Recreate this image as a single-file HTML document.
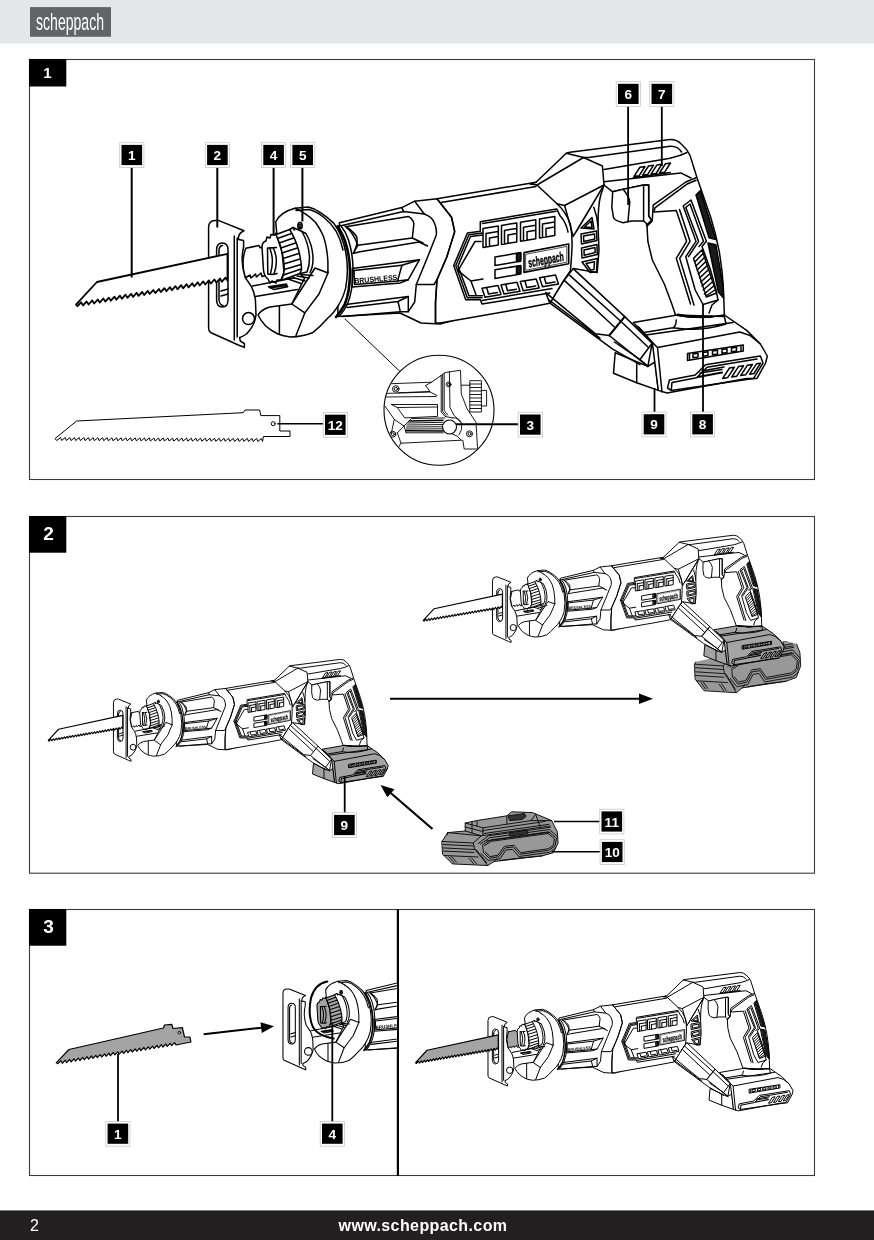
<!DOCTYPE html>
<html><head><meta charset="utf-8"><title>scheppach</title>
<style>
html,body{margin:0;padding:0;background:#fff}
body{width:874px;height:1240px;position:relative;overflow:hidden;font-family:"Liberation Sans",sans-serif}
</style></head><body>

<svg width="874" height="1240" viewBox="0 0 874 1240" style="position:absolute;left:0;top:0;will-change:opacity" font-family="Liberation Sans, sans-serif">
<style>.d path,.d circle,.d ellipse{fill:none;stroke:#000;stroke-linejoin:round;stroke-linecap:round}.d .w{fill:#fff}.d .bat path{vector-effect:non-scaling-stroke;stroke:#111}.d .k{fill:#1a1a1a}.d .k2{fill:#333;stroke:none}.d text.t{fill:#000;stroke:none}.d .bf{fill:var(--bf,#fff)}.d .bg{fill:var(--bg,#8e8e8e)}.d .cf{fill:var(--cf,#fff)}.d .kf{fill:var(--kf,#fff)}.d .sh{display:var(--shd,inline)}.d #blade path{fill:inherit}</style>
<defs><g class="d">
<g id="blade"><path d="M77.5,306.2 L81.1,302.3 L83.1,305.4 L86.6,301.4 L88.6,304.5 L92.2,300.4 L94.2,303.5 L97.8,299.5 L99.7,302.6 L103.3,298.5 L105.3,301.6 L108.9,297.6 L110.8,300.7 L114.4,296.6 L116.4,299.7 L120.0,295.7 L121.9,298.8 L125.5,294.7 L127.5,297.8 L131.1,293.8 L133.1,296.9 L136.6,292.8 L138.6,295.9 L142.2,291.9 L144.2,295.0 L147.8,290.9 L149.7,294.0 L153.3,290.0 L155.3,293.1 L158.9,289.0 L160.8,292.1 L164.4,288.1 L166.4,291.2 L170.0,287.1 L171.9,290.2 L175.5,286.2 L177.5,289.3 L181.1,285.2 L183.1,288.3 L186.6,284.2 L188.6,287.4 L192.2,283.3 L194.2,286.4 L197.8,282.3 L199.7,285.5 L203.3,281.4 L205.3,284.5 L208.9,280.4 L210.8,283.6 L214.4,279.5 L216.4,282.6 L220.0,278.5 L221.9,281.7 L225.5,277.6 L227.5,280.7 L227.5,253.8 L96.9,282 L76,304.6 Z"/></g>
<g id="front"><!-- SHOE -->
<g id="shoe">
<path class="w" d="M208.6,227 Q208.8,220.6 215,220.4 L218.3,220.4 L244,230.8 Q237.5,233.5 238.6,239.5 L243.6,240.5 L243.6,247 Q240,262 245.2,277.5 L251.5,286.7 L253.8,292.4 L255.4,299.8 L256,315 Q255,325 246.5,334 Q242,337 239.6,337.5 L240.3,341 L244.4,343.7 L244.4,347.4 L239.5,345.5 L210.5,332.5 Q208.6,331 208.6,328 Z"/>
<path d="M234.3,236 L234.3,340 M237.2,238 L237.2,337"/>
<path d="M216.6,250 Q216.6,243 222.3,243 Q228,243 228,250 L228,300 Q228,307 222.3,307 Q216.6,307 216.6,300 Z"/>
<path d="M219,251 Q219,246 222.5,245.5 M219,251 L219,300 Q219.5,305 223,305.5"/>
<path d="M221,291 L228,289 M221,296 L228,294"/>
<circle class="w" cx="248.5" cy="318.6" r="6"/>
</g>
</g>
<g id="chuckring"><!-- HOUSING RING + CHUCK -->
<g id="ring">
<!-- outer ring body -->
<path class="w" d="M275.7,222 Q280,212 295,208.2 L308.3,207 Q315,208.5 320.2,212.4 Q328,217.5 333.9,223.4 Q338.5,229 341.3,237.1 Q344.5,245 345.7,252 Q349,270 345.7,287.9 Q343,298 338.9,304.4 Q334,313 327.9,318 Q320,327 312.4,332.8 Q302,337 290.4,336.9 Q283,336 278,334 Q270,330 265.7,326 Q261,321 258,315 Q262,309 270,307 L291.8,304 L304.5,278.3 L299,273 L283,270 L277,236 Z"/>
<path d="M296,210.5 L309,209.5 Q317,211.5 324,217.5 Q331,223 336,231 Q341,240 343,250"/>
<!-- face inner edge (depth) -->
<path d="M305.6,214.2 Q311,217.5 315.6,222.5 Q320,228.5 323,235.3 Q327,246 327.9,261.8 L327.9,271.4"/>
<path d="M295,208.2 Q301,210.5 305.6,214.2"/>
<!-- lower jaw hex -->
<path d="M291.8,304 L315,268 L328,273 L319,294 L304.8,312.9 Z"/>
<path d="M304.8,312.9 L296,335.5 M279.4,306 L279.4,333.5"/>
<path d="M327.9,271.4 L328,273"/>
<!-- rear rings behind housing -->
<path stroke-width="2.6" d="M337.6,226.3 Q343,235 345,241 Q350,256 350,272 Q350,292 344.5,305 Q340.5,312 336,317"/>
<path d="M340.5,225.3 Q346,232 348.5,240 Q353.5,256 353,273 Q352.5,292 347.5,304 Q344,311 339.5,316"/>
<path d="M345,226 Q353,231 356.5,236.5 Q358.5,242 354.5,251"/>
<!-- small screw circle (5) -->
<ellipse cx="300" cy="225.7" rx="2.2" ry="3.2"/><ellipse cx="300" cy="225.7" rx="1" ry="1.8"/>
</g>
<g id="chuck">
<!-- shaft -->
<path class="cf sh" d="M245.8,248.3 L259,245.5 L260,247.8 L267.5,246.6 L268,275 L262,276.5 L261,273 L256.5,277 L255.5,274 L251,278 L250,275 L245.2,278 Q240.5,262 245.8,248.3 Z"/>
<!-- collar -->
<path class="kf" d="M262,247 Q262,242 266,241 L267,237 L270,238 L271,234.5 L275,235 L276,233 L282,252 L284,272 L281,280 L277,280 L276,283 L272,281 L270,283 L268,279 Q264,276 263.5,270 Z"/>
<path d="M267.5,248 Q272,248 276.5,247.5 M267.5,248 L267.8,274 Q272,275 277,273.5"/>
<path d="M270,249 Q274.5,260 270.5,273.5 M273.5,248.5 Q279,260 274,274"/>
<!-- knurled ring -->
<path class="kf" d="M276,234.5 L289.7,229.5 Q296,240 298.9,251.3 Q301.5,262 301.6,269.6 L299.8,273.5 L281,280.5 Q284.5,275 284.2,268 Q283.5,250 276,234.5 Z"/>
<path d="M277.5,238.5 L291.5,233.5 M279.3,243 L293.5,238 M280.8,248 L295.5,243 M282,253 L297.2,248 M283,258.5 L298.7,253.5 M283.8,264 L300,259 M284.2,269.5 L301,264.5 M283.5,275 L301,269"/>
<!-- hub behind ring -->
<path d="M289.7,229.5 L293,227.5 L302,231.5 Q309,244 309.5,258 Q309.5,266 307,272 L299.8,273.5"/>
<path d="M302,231.5 L306,233.5 Q313,246 313,259 Q313,267 310,272.5"/>
<path d="M293,227.5 L294.5,230"/>
</g>
<g id="platform">
<path d="M252.7,286 L294.5,277.8 M255.4,296.4 L297.3,289.5 M268.5,286.8 L286.3,284 L287.7,286.8 L274,289.5 Z M270,288 L286,285.5"/>
<path d="M288,279 L301,283.5 M293,277.5 L305,281 M297,276 L309,278 M301,274.5 L313,275.5"/>
</g>
</g>
<g id="sbody"><!-- NECK -->
<g id="neck">
<path class="w" d="M339.4,222.8 L401.9,207.6 L414.7,201.2 L437,198.8 L462,205 L462,318 L440,324 L421,323 L400,313 L337.8,316.5 Z"/>
<path d="M342,225.5 L403.5,211.6 L424.3,214 Q432,217 434,222 Q437,228 436.3,234.9 L427.5,257.3 L416.3,284.5 L414.7,302 L408.3,311.7"/>
<path d="M401.9,207.6 L403.5,211.6 M414.7,201.2 L424.3,214"/>
<!-- top recess -->
<path d="M345.8,226.8 L408.3,216.4 Q413,219 413.9,223.6 L412.3,238 L357.8,245.3 L357,242.9 Q353,233 345.8,226.8 Z"/>
<path d="M357.8,245.3 L353,253.5 L360,251.7 L419,242 L427.5,246 M412.3,238 L423,243"/>
<!-- BRUSHLESS panel -->
<path d="M352.2,268.5 L419.5,259.7 L408.3,279.7 L400.3,282.9 L352.2,286.9 Z"/>
<path d="M354,270.6 L402,265.3 L397.5,281 L354.5,284.6 Z"/>
<path d="M402,265.3 L419.5,259.7 M397.5,281 L408.3,279.7"/>
<text class="t" x="354.6" y="283.6" font-size="7.6" font-weight="700" textLength="43" lengthAdjust="spacingAndGlyphs" transform="rotate(-5 354.6 283.6)">BRUSHLESS</text>
<!-- lower recess -->
<path d="M345.8,304.5 L408.3,296.5 L408.3,311.7 L400.3,311.7 L342.6,316.5"/>
<path d="M347,307.5 L398,301.5 L408.3,296.5 M398,301.5 L400.3,311.7"/>
<!-- Y rib -->
<path d="M416.3,284.5 L434,284.5 L437,279.7"/>
</g>
<!-- MAIN BODY -->
<g id="body">
<path class="w" d="M437,198.8 L465,194 L536,182.3 L566.3,153.2 L569.8,152.3 L670,139.6 Q677,139.5 681.5,144.3 Q687,149 690,155.4 L697,177.8 L710.7,217.2 Q716,234 719.2,251.5 Q722.5,270 723.5,290 L724.4,316.6 L675.5,315 L672,304.6 L664.3,284 L652.3,260 L647.9,241.5 L647,226 L652,221 L648.7,215.8 L648.7,185 L643.6,185 L612.7,191.8 L604,185 L600.7,195.2 Q598,205 598,226 L599,250 L597.2,272.4 L573.2,268.6 L563.6,281 L549.8,303.3 L520,309 L440,323 L435.5,323 L435.5,302 L437,279.7 L446.7,257.3 L454.7,231.6 L451.5,217.2 Z"/>
<!-- collar right edge -->
<path d="M437,198.8 L451.5,217.2 L454.7,231.6 L446.7,257.3 L437,279.7 L435.5,302 L435.5,323"/>
<path d="M441,202.5 L536,186.5 M536,182.3 L530.3,184"/>
<!-- ramp -->
<path d="M537,185 L583.5,157.5 L588.6,157.5 L670,146.3 Q678,146 681.5,152"/>
<path d="M583.5,157.5 L602.4,166 L604,185 L564.6,205.5 L557,203.8 L537,185"/>
<path d="M566.3,153.2 L583.5,157.5 M530.3,184 L537,185 M557,203.8 Q566,212 570.4,224.3 Q572.5,236 572,246.6 Q571.5,260 570.4,270.7 L563.6,281"/>
<path d="M604,169.5 L670,158.3 Q680,156 687,152.5 M604,181.7 L680.8,172.9 L691,178"/>
<path d="M564.6,205.5 L573.2,236.4 M604,185 L573.2,236.4 M601,190 L576,232"/>
<!-- top slots (7) -->
<path d="M634,176.5 L640,167.2 L645,166.5 L639,175.8 Z M642.5,175.3 L648.5,166 L653.5,165.3 L647.5,174.6 Z M651,174.2 L657,164.9 L662,164.2 L656,173.5 Z M659.5,173 L665.5,163.7 L670.5,163 L664.5,172.3 Z M633.4,177.8 L670.3,172.6"/>
<!-- trigger -->
<path class="w" d="M612.7,191.8 L623,189.2 L643.6,185 L643.6,221 L631.5,221 L623,222.7 Q615,221 613.5,217.5 L611.8,207.2 Z"/>
<path d="M623,189.2 Q629,196 629.8,202 L628,221"/>
<path d="M643.6,185 L648.7,185 L648.7,215.8 L652,221 L647,226 M643.6,221 L647,224"/>
<!-- grip boundary lines -->
<path d="M696,177.8 L685.8,182 L653.2,205.2 L652.3,219.8 L646.3,225"/>
<path d="M696,180.3 L686.6,184.3 L654.9,207.8 L654,212 L676.3,210.4 L686.6,241.3 L676.3,258.4 L690.5,304"/>
<path d="M679.5,209.5 L690,241.3 L679.7,258.4 L694,305"/>
<!-- chevron frame -->
<path d="M683.2,206 L691,200 L706.4,241.3 L702,246.4 L710.7,270.4 L716,290 L718,300 L703,304.5 L695.2,290 L685.8,256.7 L696,241.3 Z"/>
<path d="M685.8,207.5 L690,204 L703.5,241.3 L699,246.4 M688.5,256.7 L698.6,241.3 L685.8,207.5"/>
<!-- hatch -->
<path d="M693.5,258.4 L702,249.8 L716.5,293 L706.5,297 Z"/>
<path d="M694.8,262 L703,253.5 M696,266 L704.4,257.5 M697.2,270 L705.8,261.5 M698.4,274 L707.2,265.5 M699.6,278 L708.6,269.5 M700.8,282 L710,273.5 M702,286 L711.4,277.5 M703.2,290 L712.8,281.5 M704.4,294 L714.2,285.5 M706,296 L715.6,289.5"/>
<!-- mesh -->
<path class="k" d="M696,195 L700.4,190.6 L715.8,239.5 L709,237.8 Z"/>
<path class="k" d="M708,243 L715.8,244.7 L723,285 L723.5,298 L718.4,292 Z"/>
<!-- lower handle -->
<path d="M718,300 L712,305 L709,313 M675.5,315 Q698.6,319.5 724.4,315" />
<path stroke-width="2" d="M678,314.6 Q698,318.6 712,316.5"/>
<!-- back top surface lines -->
<!-- side vents -->
<path d="M581,228 L592,217.5 L594,229 Z M584.5,227 L591,221 L592,227.5 Z"/>
<path d="M581,234 L596.5,231 L597,240.5 L581.5,244 Z M583.5,236 L594.5,234 L594.8,239 L583.8,241.5 Z"/>
<path d="M581.5,248 L597,244.5 L597.3,254.5 L582,258 Z M584,250 L595,247.5 L595.2,252.5 L584.2,255.2 Z"/>
<path d="M582,262 L597.3,258.5 L596.5,272 L590,272.5 Z M586,263.5 L594.5,261.8 L594,269.5 L590.5,270 Z"/>
<path d="M593.8,207.2 Q597.5,217 598,226"/>
<!-- vent panel -->
<path d="M453.7,265.5 L467.5,232.9 L480.3,231.2 L480.3,221.7 L556.7,208.9 L560,215.7 Q566,222 568,232 M453.7,265.5 L465.7,299.8 L480.3,299.8 L482,304 L549.8,293"/>
<path d="M455.8,265.5 L469,234.8 L482,233 M455.8,265.5 L467.3,297.8 L482,297.8"/>
<path d="M458,266 L470.5,236.5 L482.5,235 M458,266 L469,295.8 L482.5,295.8"/>
<path d="M458,270.7 L475,241.5 L481,241.5 M458,270.7 L470.9,281 L476,294.7 M470.9,281 L483,279"/>
<path d="M482.5,223.5 L556,211.3"/>
<!-- top vents -->
<g id="tv"><path d="M483,228.5 L498.3,226 L498.3,245 L483,247.5 Z M486,233.5 L498,231.5 M486,233.5 L486,247 M489.5,238 L498,236.5 M489.5,238 L489.5,246.3"/></g>
<use href="#tv" x="18.5" y="-3.1"/><use href="#tv" x="37.5" y="-6.3"/><use href="#tv" x="56.5" y="-9.5"/>
<!-- bottom vents -->
<g id="bv"><path d="M482,288.2 L498,285.5 L501,294.5 L485,297.3 Z M487,288.5 L488.5,294 L497.5,292.5"/></g>
<use href="#bv" x="19" y="-3.3"/><use href="#bv" x="38.2" y="-6.6"/><use href="#bv" x="57.5" y="-10.5"/>
<path d="M482,300.5 L552,288.5"/>
<!-- small slots -->
<path d="M495,257 L520.7,252.6 L520.7,261.2 L495,265.5 Z M495,269.8 L520.7,265.5 L520.7,274 L495,278.4 Z"/>
<path class="k" d="M516.5,253.8 L520.7,253 L520.7,260 L516.5,260.8 Z M516.5,266.8 L520.7,266 L520.7,273 L516.5,273.8 Z"/>
<!-- logo plate -->
<path stroke-width="1.6" d="M524,252.6 L568.7,244 L568.7,263.8 L524,272.4 Z"/>
<path stroke-width="0.7" d="M526,254.3 L566.8,246.4 L566.8,262.2 L526,270.2 Z"/>
<text class="t" x="529" y="267.5" font-size="13" font-weight="700" font-style="italic" style="stroke:#000;stroke-width:0.45px" textLength="36" lengthAdjust="spacingAndGlyphs" transform="rotate(-10.8 529 267.5)">scheppach</text>
</g>
<!-- STRUT -->
<g id="strut">
<path class="w" d="M573.2,268.6 L624.7,316.6 L652.1,343.2 L647.9,366.4 L609.2,335.5 L595.5,333.8 L545.7,292.6 L549.8,303.3 L563.6,281 Z"/>
<path d="M569.8,275.4 L621.3,321.8 L648,347 M564.6,280.6 L614.4,327"/>
<path stroke-width="2" d="M624.7,316.6 L609.2,335.5"/>
<path d="M551,303.8 L612.7,349.2 L640,364.7 M549,300 L600,338"/>
<path d="M652.1,343.2 L640,359.5 L647.9,366.4 M640,359.5 L614.4,342"/>
</g>
</g>
<g id="foot"><!-- BASE (battery foot) -->
<path class="bf" d="M615.2,352.7 L613.5,373.3 L636.7,382.7 L658.3,390.4 L655,362 L647.9,366.4 Z"/>
<path d="M636.7,363 L636.7,382.7"/>
<path class="bf" d="M633.4,322.6 L673,315.8 L675.5,315 Q698.6,319.5 724.4,315 L746.7,330.4 L760.4,344 L767.3,356 L765.6,363 L757,378.4 L746.7,378.4 L667,393 L658.3,390.4 L652.3,342.4 Z"/>
<path d="M652.3,342.4 L657.5,347.5 L739.8,332 L750,335.5 L760.4,344 M657.5,347.5 L662,392"/>
<path d="M638,326.5 L644,332.5 L672.8,327.8 Q676,326.5 676.3,320 M644,332.5 L652.3,342.4 M672.8,327.8 Q700,332 726,324 L724.4,316.6 M646,335 L733,322.5"/>
<!-- contacts -->
<path d="M687.5,353.5 L743.3,345 L743.3,351 L687.5,360.4 Z M689.5,354.5 L689.5,359.5 M741,346 L741,351"/>
<path d="M693,354 L698,353.2 L698,357 L693,357.8 Z M703,352.5 L708,351.7 L708,355.5 L703,356.3 Z M712.5,351 L717.5,350.2 L717.5,354 L712.5,354.8 Z M722,349.5 L727,348.7 L727,352.5 L722,353.3 Z M731.5,348 L736.5,347.2 L736.5,351 L731.5,351.8 Z"/>
<!-- lower slot -->
<path d="M669.5,380 L695.2,375 L705.5,364.7 L760.4,356 L763,363 L753.6,378.4 L671.2,390.4 L667.5,388 Z"/>
<path d="M672,382.5 L696.5,377.8 L707,367.3 L757,359 M672,382.5 L671.2,390.4"/>
<path stroke-width="2.2" d="M698,377 L722,372.5"/>
<path d="M700,373 L722,369.5 M702,371 L724,367"/>
<path d="M722.7,378.4 L729.5,368 L734.5,367.2 L727.7,377.6 Z M731.7,377 L738.5,366.6 L743.5,365.8 L736.7,376.2 Z M740.7,375.6 L747.5,365.2 L752.5,364.4 L745.7,374.8 Z M749.7,374.2 L756.5,363.8 L760.5,363.2 L754,373.5 Z"/>
</g>
</g></defs>
<rect x="0" y="0" width="874" height="43.5" fill="#e6e7e8"/><rect x="30" y="7.1" width="81" height="29.7" fill="#636466"/><rect x="0" y="1210.4" width="874" height="29.6" fill="#231f20"/>
<text x="36" y="29.6" font-size="24.5" fill="#fff" textLength="68" lengthAdjust="spacingAndGlyphs">scheppach</text>
<rect x="29.5" y="59.5" width="785" height="420" stroke="#3a3a3a" stroke-width="1.1" fill="none"/>
<rect x="29.5" y="516.5" width="785" height="356.7" stroke="#3a3a3a" stroke-width="1.1" fill="none"/>
<rect x="29.5" y="909.5" width="785" height="266" stroke="#3a3a3a" stroke-width="1.1" fill="none"/>
<rect x="396.8" y="909" width="2.2" height="267" fill="#000"/>
<rect x="29" y="59" width="37.3" height="27.5" fill="#000"/>
<rect x="29" y="516" width="37.3" height="36.7" fill="#000"/>
<rect x="29" y="909" width="37.3" height="36.7" fill="#000"/>
<text x="47.5" y="78" text-anchor="middle" font-size="15" font-weight="700" fill="#fff">1</text>
<text x="48.6" y="540.2" text-anchor="middle" font-size="19" font-weight="700" fill="#fff">2</text>
<text x="48.6" y="933.2" text-anchor="middle" font-size="19" font-weight="700" fill="#fff">3</text>
<g class="d">
<path d="M345,318.9 L399.7,371.2" stroke-width="1"/>
<g transform="translate(0,0) scale(1,1)" stroke-width="1.50"><g style="--bf:#fff"><use href="#foot"/></g><use href="#sbody"/><g style="--cf:#fff;--kf:#fff"><use href="#chuckring"/></g><use href="#front"/><g fill="#fff" stroke-width="1.80"><use href="#blade"/></g></g>
<path class="w" stroke-width="1" d="M57,440.3 L60.5,437.5 L61.7,440.5 L65.2,437.5 L66.3,440.5 L69.9,437.6 L71.0,440.6 L74.5,437.6 L75.7,440.6 L79.2,437.6 L80.4,440.6 L83.9,437.6 L85.0,440.6 L88.5,437.7 L89.7,440.7 L93.2,437.7 L94.4,440.7 L97.9,437.7 L99.0,440.7 L102.6,437.7 L103.7,440.7 L107.2,437.7 L108.4,440.8 L111.9,437.8 L113.0,440.8 L116.6,437.8 L117.7,440.8 L121.2,437.8 L122.4,440.8 L125.9,437.8 L127.1,440.8 L130.6,437.9 L131.7,440.9 L135.2,437.9 L136.4,440.9 L139.9,437.9 L141.1,440.9 L144.6,437.9 L145.7,440.9 L149.3,437.9 L150.4,441.0 L153.9,438.0 L155.1,441.0 L158.6,438.0 L159.8,441.0 L163.3,438.0 L164.4,441.0 L167.9,438.0 L169.1,441.0 L172.6,438.1 L173.8,441.1 L177.3,438.1 L178.4,441.1 L181.9,438.1 L183.1,441.1 L186.6,438.1 L187.8,441.1 L191.3,438.2 L192.4,441.2 L196.0,438.2 L197.1,441.2 L200.6,438.2 L201.8,441.2 L205.3,438.2 L206.5,441.2 L210.0,438.2 L211.1,441.2 L214.6,438.3 L215.8,441.3 L219.3,438.3 L220.5,441.3 L224.0,438.3 L225.1,441.3 L228.7,438.3 L229.8,441.3 L233.3,438.4 L234.5,441.4 L238.0,438.4 L239.1,441.4 L242.7,438.4 L243.8,441.4 L247.3,438.4 L248.5,441.4 L252.0,438.4 L253.2,441.5 L256.7,438.5 L257.8,441.5 L261.3,438.5 L262.5,441.5 L263.4,436.5 L290,436.5 L290,431 L279.8,431 L279.8,415.6 L260.8,415.6 L259.7,410 L245,410 L243.2,412.7 L76.6,421 L55.4,438.3 Z"/><circle cx="273.2" cy="423.7" r="2" stroke-width="1"/>
<clipPath id="cc"><circle cx="439" cy="410.2" r="54.5"/></clipPath>
<circle class="w" cx="439" cy="410.2" r="55" stroke-width="1.1"/>
<g clip-path="url(#cc)" stroke-width="0.9">
<path d="M383,384 L431.5,382.2 L439,377 L445,372.5 L460.5,370.3 L461.3,394 L467.2,409 L476,422.3 L477.6,449 L464.2,449 L462.8,440.2"/>
<path d="M441.2,375.5 L441.2,412 L445,416.4 L452.3,417.9 M444.2,373.5 L444.2,410.4 L447.9,415 M449.4,372 L450,407.5 L453.8,415 L460.5,422.3 M442.7,375 L442.7,411.5 L446,415.5"/>
<circle cx="395.8" cy="388.9" r="3.3"/><circle cx="395.8" cy="388.9" r="1.7"/>
<circle cx="448.6" cy="384.4" r="2.4"/><circle cx="448.6" cy="384.4" r="1.1"/>
<circle cx="469.5" cy="433.8" r="3"/><circle cx="469.5" cy="433.8" r="1.5"/>
<circle cx="392.8" cy="434.2" r="3"/><circle cx="392.8" cy="434.2" r="1.5"/>
<path d="M384,393.5 L430,392 L437,395.5 M398,392.8 L430,391.5 L425.6,385.5 M425.6,385.5 L431.5,382.2 M384,397 L436,396.5"/>
<path d="M391.4,404.5 L437.5,404.5 L437.5,416.4 L404.7,417.9 L397.3,407.5 L437,407 M397.3,407.5 L391.4,404.5"/>
<path d="M383.9,404.5 L394.3,419.4 L391.4,432.8 M394.3,419.4 L404,426 M397.3,432.8 L401,443.2 L461.3,440.2 M397.3,432.8 L404,426"/>
<path d="M404,426 L411.4,418.6 L445,417.9 M406.2,432.8 L443.4,432.8 M404,426 L406.2,432.8"/>
<path stroke-width="1.6" d="M409.5,421 L443,420.2 M406,430.8 L443,431"/>
<path d="M408,423 L443,422.3 M407,425 L443,424.5 M406.5,427 L443,426.7 M406.3,429 L443,428.8"/>
<path d="M401,443.2 L398,448 M461.3,440.2 L457,436 L452,434"/>
<path d="M461.3,385.2 L470.2,385.2 M470.2,380.7 L481.4,380.7 L481.4,412 L470.2,412 Z M481.4,390.4 L486.6,390.4 L486.6,406 L481.4,406"/>
<path d="M470.2,384 L481.4,384 M470.2,387.5 L481.4,387.5 M470.2,391 L481.4,391 M470.2,394.5 L481.4,394.5 M470.2,398 L481.4,398 M470.2,401.5 L481.4,401.5 M470.2,405 L481.4,405 M470.2,408.5 L481.4,408.5"/>
<path d="M452.3,417.9 Q459,417 461.5,423 Q463,430 459,435"/>
<circle class="w" cx="449.5" cy="427" r="7" stroke-width="1.1"/>
</g>

</g>
<path d="M131.7,165 L131.7,277.5" stroke="#000" stroke-width="2" fill="none"/>
<path d="M217.3,165 L217.3,227.5" stroke="#000" stroke-width="2" fill="none"/>
<path d="M273.6,165 L273.6,235.5" stroke="#000" stroke-width="2" fill="none"/>
<path d="M302.4,165 L302.4,221.5" stroke="#000" stroke-width="2" fill="none"/>
<path d="M628.1,103 L628.1,205" stroke="#000" stroke-width="1.8" fill="none"/>
<path d="M661.8,103 L661.8,166" stroke="#000" stroke-width="1.8" fill="none"/>
<path d="M703,303.8 L703,414" stroke="#000" stroke-width="1.8" fill="none"/>
<path d="M654.5,388 L654.5,414" stroke="#000" stroke-width="1.8" fill="none"/>
<path d="M456,424.3 L520,424.3" stroke="#000" stroke-width="2" fill="none"/>
<path d="M277.3,423.7 L325,423.7" stroke="#000" stroke-width="1.5" fill="none"/>
<rect x="119.7" y="142.7" width="24.2" height="24.8" fill="#fff" stroke="#c8c8c8" stroke-width="0.8"/><rect x="121.5" y="144.9" width="20.6" height="20.2" fill="#000"/><text x="131.8" y="160.0" text-anchor="middle" font-size="13.6" font-weight="700" fill="#fff" stroke="none">1</text>
<rect x="205.3" y="142.7" width="24.2" height="24.8" fill="#fff" stroke="#c8c8c8" stroke-width="0.8"/><rect x="207.1" y="144.9" width="20.6" height="20.2" fill="#000"/><text x="217.4" y="160.0" text-anchor="middle" font-size="13.6" font-weight="700" fill="#fff" stroke="none">2</text>
<rect x="261.5" y="142.7" width="24.2" height="24.8" fill="#fff" stroke="#c8c8c8" stroke-width="0.8"/><rect x="263.3" y="144.9" width="20.6" height="20.2" fill="#000"/><text x="273.6" y="160.0" text-anchor="middle" font-size="13.6" font-weight="700" fill="#fff" stroke="none">4</text>
<rect x="290.6" y="142.7" width="24.2" height="24.8" fill="#fff" stroke="#c8c8c8" stroke-width="0.8"/><rect x="292.4" y="144.9" width="20.6" height="20.2" fill="#000"/><text x="302.7" y="160.0" text-anchor="middle" font-size="13.6" font-weight="700" fill="#fff" stroke="none">5</text>
<rect x="616.2" y="81.6" width="24.2" height="24.8" fill="#fff" stroke="#c8c8c8" stroke-width="0.8"/><rect x="618.0" y="83.8" width="20.6" height="20.2" fill="#000"/><text x="628.3" y="98.9" text-anchor="middle" font-size="13.6" font-weight="700" fill="#fff" stroke="none">6</text>
<rect x="649.7" y="81.6" width="24.2" height="24.8" fill="#fff" stroke="#c8c8c8" stroke-width="0.8"/><rect x="651.5" y="83.8" width="20.6" height="20.2" fill="#000"/><text x="661.8" y="98.9" text-anchor="middle" font-size="13.6" font-weight="700" fill="#fff" stroke="none">7</text>
<rect x="641.9" y="412.0" width="24.2" height="24.8" fill="#fff" stroke="#c8c8c8" stroke-width="0.8"/><rect x="643.7" y="414.2" width="20.6" height="20.2" fill="#000"/><text x="654.0" y="429.3" text-anchor="middle" font-size="13.6" font-weight="700" fill="#fff" stroke="none">9</text>
<rect x="690.5" y="412.0" width="24.2" height="24.8" fill="#fff" stroke="#c8c8c8" stroke-width="0.8"/><rect x="692.3" y="414.2" width="20.6" height="20.2" fill="#000"/><text x="702.6" y="429.3" text-anchor="middle" font-size="13.6" font-weight="700" fill="#fff" stroke="none">8</text>
<rect x="518.2" y="412.3" width="24.2" height="24.8" fill="#fff" stroke="#c8c8c8" stroke-width="0.8"/><rect x="520.0" y="414.5" width="20.6" height="20.2" fill="#000"/><text x="530.3" y="429.6" text-anchor="middle" font-size="13.6" font-weight="700" fill="#fff" stroke="none">3</text>
<rect x="323.2" y="412.5" width="24.2" height="24.8" fill="#fff" stroke="#c8c8c8" stroke-width="0.8"/><rect x="325.0" y="414.7" width="20.6" height="20.2" fill="#000"/><text x="335.3" y="429.8" text-anchor="middle" font-size="13.6" font-weight="700" fill="#fff" stroke="none">12</text>
<g class="d">
<g transform="translate(10.9,590.9) scale(0.4917,0.4906)" stroke-width="1.93"><g style="--bf:#a4a4a4"><use href="#foot"/></g><use href="#sbody"/><g style="--cf:#fff;--kf:#fff"><use href="#chuckring"/></g><use href="#front"/><g fill="#fff" stroke-width="2.32"><use href="#blade"/></g></g>
<clipPath id="cb"><path d="M688,663.5 L740,652 L786,641 L812,648 L812,702 L688,702 Z"/></clipPath>
<g clip-path="url(#cb)"><g transform="translate(383.6,463.2) scale(0.522,0.516)"><g transform="translate(595.8,389.5) scale(1.75,2.3) translate(-442,-841.5)" class="bat" stroke-width="0.95" style="--bg:#989898"><path class="bg" d="M442,841.5 L447.6,832.6 L465.2,831 L465.2,823 L476.5,820.6 L506.9,815.8 L511.7,811.8 L532.5,812.6 L551.7,820.6 L557.3,831.8 L558.1,843 L553.3,852.7 L542.1,855.9 L494.1,861.5 L487.7,865.5 L452.4,863.9 L442.8,854.3 Z"/>
<path d="M442,841.5 L473.2,843 L481.3,835.8 L447.6,832.6 M473.2,843 L474.8,849.5 L442.8,847.9 M474.8,849.5 L482.9,859 L487.7,865.5 M442.5,851 L474,852.5 M444,855.5 L478,857"/>
<path d="M482.9,844.7 L490.9,839.9 L548.5,831.8 L556.5,838.2 L554.9,846.3 L548.5,850.3 L519.7,854.3 L513.3,847 L505.3,847.9 L498.9,856.7 L489.3,858.3 L483.7,852.7 Z"/>
<path d="M480.5,844 L489.8,837.7 L549.5,829.5 L558,837 M481,853.5 L488.3,860.5 L500,858.8 L506,850 L512.5,849.3 L518.8,856.5 L549.5,852.3 L556,848"/>
<path d="M478.3,843.5 L488.5,835.7 L550.5,827.3 M476,849.5 L486.5,862.5"/>
<path d="M465.2,823 L482.9,827.8 L531,820.6 L535.7,814.2 M482.9,827.8 L482.9,835 M465.2,831 L481.3,835.8 L550,826 M472,821.6 L472,832.8 M477,820.6 L477,826.2 M483,830.5 L545,821.5 M506.9,815.8 L506.9,824 M531,820.6 L551.7,820.6 M535.7,814.2 L540,826.5"/>
<path class="k2" d="M510,832.6 L527.7,830.2 L527.7,833.6 L510,836 Z M508.5,815.8 L524.5,813.6 L526,816.5 L522,819.5 L510,820.6 Z"/>
<path d="M449,857 L454,862.5 M451.5,856.5 L456.5,862 M469,858.5 L474,864 M471.5,858 L476.5,863.5 M494.1,861.5 L497,858.5 M520,858 L542.1,855.9 M500,860.5 L520,858"/>
<path d="M484.5,845.5 L491.5,841.3 L548,833.5 L554.5,838.8 L553.3,845.5 L548,848.8 L520.5,852.7 L514,845.3 L504.5,846.3 L498,855.2 L490,856.6 L485.3,852"/>
<path d="M443,844.5 L473.5,846 M447.6,832.6 L447.6,834.5 M465.2,827 L482.9,831.5 M484,833.5 L549,824.3 M486,841 L550,832.2"/>
</g></g></g>
<g transform="translate(383.6,463.2) scale(0.522,0.516)" stroke-width="1.83"><g style="--bf:#a4a4a4"><use href="#foot"/></g><use href="#sbody"/><g style="--cf:#fff;--kf:#fff"><use href="#chuckring"/></g><use href="#front"/><g fill="#fff" stroke-width="2.20"><use href="#blade"/></g></g>
<g class="bat" stroke-width="1.0" style="--bg:#989898"><path class="bg" d="M442,841.5 L447.6,832.6 L465.2,831 L465.2,823 L476.5,820.6 L506.9,815.8 L511.7,811.8 L532.5,812.6 L551.7,820.6 L557.3,831.8 L558.1,843 L553.3,852.7 L542.1,855.9 L494.1,861.5 L487.7,865.5 L452.4,863.9 L442.8,854.3 Z"/>
<path d="M442,841.5 L473.2,843 L481.3,835.8 L447.6,832.6 M473.2,843 L474.8,849.5 L442.8,847.9 M474.8,849.5 L482.9,859 L487.7,865.5 M442.5,851 L474,852.5 M444,855.5 L478,857"/>
<path d="M482.9,844.7 L490.9,839.9 L548.5,831.8 L556.5,838.2 L554.9,846.3 L548.5,850.3 L519.7,854.3 L513.3,847 L505.3,847.9 L498.9,856.7 L489.3,858.3 L483.7,852.7 Z"/>
<path d="M480.5,844 L489.8,837.7 L549.5,829.5 L558,837 M481,853.5 L488.3,860.5 L500,858.8 L506,850 L512.5,849.3 L518.8,856.5 L549.5,852.3 L556,848"/>
<path d="M478.3,843.5 L488.5,835.7 L550.5,827.3 M476,849.5 L486.5,862.5"/>
<path d="M465.2,823 L482.9,827.8 L531,820.6 L535.7,814.2 M482.9,827.8 L482.9,835 M465.2,831 L481.3,835.8 L550,826 M472,821.6 L472,832.8 M477,820.6 L477,826.2 M483,830.5 L545,821.5 M506.9,815.8 L506.9,824 M531,820.6 L551.7,820.6 M535.7,814.2 L540,826.5"/>
<path class="k2" d="M510,832.6 L527.7,830.2 L527.7,833.6 L510,836 Z M508.5,815.8 L524.5,813.6 L526,816.5 L522,819.5 L510,820.6 Z"/>
<path d="M449,857 L454,862.5 M451.5,856.5 L456.5,862 M469,858.5 L474,864 M471.5,858 L476.5,863.5 M494.1,861.5 L497,858.5 M520,858 L542.1,855.9 M500,860.5 L520,858"/>
<path d="M484.5,845.5 L491.5,841.3 L548,833.5 L554.5,838.8 L553.3,845.5 L548,848.8 L520.5,852.7 L514,845.3 L504.5,846.3 L498,855.2 L490,856.6 L485.3,852"/>
<path d="M443,844.5 L473.5,846 M447.6,832.6 L447.6,834.5 M465.2,827 L482.9,831.5 M484,833.5 L549,824.3 M486,841 L550,832.2"/>
</g>
</g>
<path d="M390,698.8 L642,698.8" stroke="#000" stroke-width="2" fill="none"/>
<path d="M653,698.8 L639,693.6 L639,704 Z" fill="#000"/>
<path d="M432.5,829 L389,791.5" stroke="#000" stroke-width="2.2" fill="none"/>
<path d="M380.5,785 L394.5,789.3 L387.3,797.3 Z" fill="#000"/>
<path d="M344.7,776.5 L344.7,816" stroke="#000" stroke-width="1.8" fill="none"/>
<path d="M554,821.5 L602,821.5" stroke="#000" stroke-width="1.6" fill="none"/>
<path d="M552.2,851.7 L602,851.7" stroke="#000" stroke-width="1.6" fill="none"/>
<rect x="332.3" y="812.7" width="24.2" height="24.8" fill="#fff" stroke="#c8c8c8" stroke-width="0.8"/><rect x="334.1" y="814.9" width="20.6" height="20.2" fill="#000"/><text x="344.4" y="830.0" text-anchor="middle" font-size="13.6" font-weight="700" fill="#fff" stroke="none">9</text>
<rect x="599.7" y="809.2" width="24.2" height="24.8" fill="#fff" stroke="#c8c8c8" stroke-width="0.8"/><rect x="601.5" y="811.4" width="20.6" height="20.2" fill="#000"/><text x="611.8" y="826.5" text-anchor="middle" font-size="13.6" font-weight="700" fill="#fff" stroke="none">11</text>
<rect x="600.1" y="839.7" width="24.2" height="24.8" fill="#fff" stroke="#c8c8c8" stroke-width="0.8"/><rect x="601.9" y="841.9" width="20.6" height="20.2" fill="#000"/><text x="612.2" y="857.0" text-anchor="middle" font-size="13.6" font-weight="700" fill="#fff" stroke="none">10</text>
<g class="d">
<clipPath id="c3"><rect x="30" y="910" width="367" height="265"/></clipPath>
<g clip-path="url(#c3)"><g transform="translate(150.3,848.8) scale(0.636,0.636)" stroke-width="1.65"><g style="--bf:#fff"><use href="#foot"/></g><use href="#sbody"/><g style="--cf:#fff;--kf:#a4a4a4;--shd:none"><use href="#chuckring"/></g><use href="#front"/></g><path stroke-width="2" d="M327.3,981.6 Q315,984 311,998 Q307.5,1015 313,1027.3 Q318,1036 333.7,1038.5"/></g>
<g transform="translate(374.1,896.3) scale(0.546,0.546)" stroke-width="1.83"><g style="--bf:#fff"><use href="#foot"/></g><use href="#sbody"/><g style="--cf:#a4a4a4;--kf:#fff"><use href="#chuckring"/></g><use href="#front"/><g fill="#a4a4a4" stroke-width="2.20"><use href="#blade"/></g></g>
<path stroke-width="1.2" style="fill:#a4a4a4" d="M58,1063.6 L60.9,1060.9 L62.4,1063.3 L65.2,1060.2 L66.7,1062.6 L69.6,1059.5 L71.1,1061.9 L74.0,1058.8 L75.5,1061.2 L78.3,1058.1 L79.9,1060.5 L82.7,1057.4 L84.2,1059.8 L87.1,1056.7 L88.6,1059.1 L91.5,1056.0 L93.0,1058.4 L95.8,1055.3 L97.3,1057.7 L100.2,1054.6 L101.7,1057.0 L104.6,1053.9 L106.1,1056.3 L108.9,1053.2 L110.4,1055.6 L113.3,1052.5 L114.8,1054.9 L117.7,1051.8 L119.2,1054.1 L122.0,1051.1 L123.6,1053.4 L126.4,1050.3 L127.9,1052.7 L130.8,1049.6 L132.3,1052.0 L135.2,1048.9 L136.7,1051.3 L139.5,1048.2 L141.0,1050.6 L143.9,1047.5 L145.4,1049.9 L148.3,1046.8 L149.8,1049.2 L152.6,1046.1 L154.1,1048.5 L157.0,1045.4 L158.5,1047.8 L161.4,1044.7 L162.9,1047.1 L165.8,1044.0 L167.3,1046.4 L170.1,1043.3 L171.6,1045.7 L174.5,1042.6 L176.0,1045.0 L190.9,1042 L190,1037 L184.5,1037 L182.4,1027.7 L173,1028.5 L171.8,1024.3 L164.6,1025 L163.4,1028 L69,1049.5 L56.2,1062.8 Z"/><circle cx="179.3" cy="1032.6" r="1.4" stroke-width="0.8"/>
</g>
<path d="M118,1054 L118,1124" stroke="#000" stroke-width="1.8" fill="none"/>
<path d="M332.3,1022.5 L332.3,1124" stroke="#000" stroke-width="1.8" fill="none"/>
<path d="M203.6,1034.2 L262,1027.7" stroke="#000" stroke-width="2" fill="none"/>
<path d="M274,1026.3 L260.5,1022.3 L261.8,1033 Z" fill="#000"/>
<rect x="105.8" y="1121.4" width="24.2" height="24.8" fill="#fff" stroke="#c8c8c8" stroke-width="0.8"/><rect x="107.6" y="1123.6" width="20.6" height="20.2" fill="#000"/><text x="117.9" y="1138.7" text-anchor="middle" font-size="13.6" font-weight="700" fill="#fff" stroke="none">1</text>
<rect x="320.2" y="1121.4" width="24.2" height="24.8" fill="#fff" stroke="#c8c8c8" stroke-width="0.8"/><rect x="322.0" y="1123.6" width="20.6" height="20.2" fill="#000"/><text x="332.3" y="1138.7" text-anchor="middle" font-size="13.6" font-weight="700" fill="#fff" stroke="none">4</text>
<text x="30" y="1231" font-size="16" fill="#fff">2</text><text x="423" y="1231" font-size="16" font-weight="700" fill="#fff" text-anchor="middle" letter-spacing="0.4">www.scheppach.com</text>
</svg>

</body></html>
